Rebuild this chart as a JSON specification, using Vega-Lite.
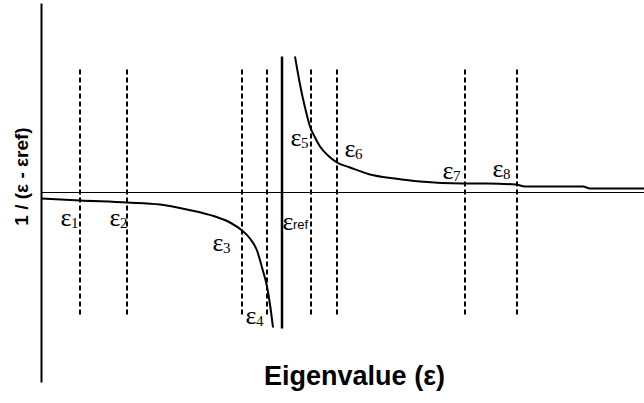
{
  "$schema": "https://vega.github.io/schema/vega-lite/v6.json",
  "autosize": {"type": "none"},
  "width": 603,
  "height": 379,
  "padding": {"left": 41, "top": 3, "right": 0, "bottom": 21},
  "background": "white",
  "config": {"view": {"stroke": null}},
  "datasets": {
    "curve": [
      {"e": 0, "v": -6, "branch": "left"},
      {"e": 39, "v": -8, "branch": "left"},
      {"e": 86, "v": -10, "branch": "left"},
      {"e": 119, "v": -12, "branch": "left"},
      {"e": 146, "v": -17, "branch": "left"},
      {"e": 174, "v": -24, "branch": "left"},
      {"e": 189, "v": -30, "branch": "left"},
      {"e": 201, "v": -38, "branch": "left"},
      {"e": 209, "v": -46, "branch": "left"},
      {"e": 216, "v": -58, "branch": "left"},
      {"e": 221, "v": -75, "branch": "left"},
      {"e": 226, "v": -94, "branch": "left"},
      {"e": 229, "v": -112, "branch": "left"},
      {"e": 232, "v": -135, "branch": "left"},
      {"e": 254, "v": 136, "branch": "right"},
      {"e": 259, "v": 108, "branch": "right"},
      {"e": 264, "v": 85, "branch": "right"},
      {"e": 269, "v": 66, "branch": "right"},
      {"e": 274, "v": 55, "branch": "right"},
      {"e": 279, "v": 46, "branch": "right"},
      {"e": 287, "v": 37, "branch": "right"},
      {"e": 296, "v": 30, "branch": "right"},
      {"e": 309, "v": 25, "branch": "right"},
      {"e": 329, "v": 18, "branch": "right"},
      {"e": 354, "v": 14, "branch": "right"},
      {"e": 379, "v": 11, "branch": "right"},
      {"e": 422, "v": 9, "branch": "right"},
      {"e": 446, "v": 9, "branch": "right"},
      {"e": 475, "v": 8, "branch": "right"},
      {"e": 484, "v": 6, "branch": "right"},
      {"e": 542, "v": 6, "branch": "right"},
      {"e": 549, "v": 4, "branch": "right"},
      {"e": 603, "v": 4, "branch": "right"}
    ],
    "eigen": [
      {"name": "1", "e": 39, "top": 123, "bottom": -125, "lx": 25, "ly": -25},
      {"name": "2", "e": 86, "top": 123, "bottom": -125, "lx": 74, "ly": -25},
      {"name": "3", "e": 201, "top": 123, "bottom": -125, "lx": 177, "ly": -50},
      {"name": "4", "e": 226, "top": 123, "bottom": -125, "lx": 210, "ly": -123},
      {"name": "5", "e": 270, "top": 123, "bottom": -125, "lx": 255, "ly": 55},
      {"name": "6", "e": 296, "top": 123, "bottom": -125, "lx": 309, "ly": 44},
      {"name": "7", "e": 424, "top": 123, "bottom": -125, "lx": 407, "ly": 22},
      {"name": "8", "e": 476, "top": 123, "bottom": -125, "lx": 457, "ly": 24}
    ],
    "ref": [
      {"name": "ref", "e": 241, "top": 136, "bottom": -136, "lx": 247, "ly": -29}
    ],
    "zero": [
      {"start": 0, "end": 603, "v": 0}
    ]
  },
  "encoding": {
    "x": {"type": "quantitative", "scale": {"domain": [0, 603], "nice": false, "zero": false}},
    "y": {"type": "quantitative", "scale": {"domain": [-189.5, 189.5], "nice": false, "zero": false}}
  },
  "layer": [
    {
      "data": {"name": "zero"},
      "mark": {"type": "rule", "color": "black", "strokeWidth": 1},
      "encoding": {
        "x": {"field": "start", "type": "quantitative",
          "axis": {"domain": false, "ticks": false, "labels": false, "grid": false,
            "title": "Eigenvalue (ε)", "titleFont": "Liberation Sans", "titleFontWeight": "bold",
            "titleFontSize": 27, "titleColor": "black", "titleX": 313, "titleY": 2,
            "titleBaseline": "alphabetic", "titleAlign": "center", "titlePadding": 0}},
        "x2": {"field": "end"},
        "y": {"field": "v", "type": "quantitative",
          "axis": {"domain": true, "domainColor": "black", "domainWidth": 2, "ticks": false, "labels": false, "grid": false,
            "title": "1 / (ε - εref)", "titleFont": "Liberation Sans", "titleFontWeight": "bold",
            "titleFontSize": 19, "titleColor": "black", "titleX": -20, "titleY": 173,
            "titleAngle": -90, "titleBaseline": "middle", "titleAlign": "center"}}
      }
    },
    {
      "data": {"name": "eigen"},
      "mark": {"type": "rule", "color": "black", "strokeWidth": 2, "strokeDash": [5, 3]},
      "encoding": {
        "x": {"field": "e", "type": "quantitative"},
        "y": {"field": "top", "type": "quantitative"},
        "y2": {"field": "bottom"}
      }
    },
    {
      "data": {"name": "ref"},
      "mark": {"type": "rule", "color": "black", "strokeWidth": 2.5},
      "encoding": {
        "x": {"field": "e", "type": "quantitative"},
        "y": {"field": "top", "type": "quantitative"},
        "y2": {"field": "bottom"}
      }
    },
    {
      "data": {"name": "curve"},
      "mark": {"type": "line", "color": "black", "strokeWidth": 2, "interpolate": "monotone"},
      "encoding": {
        "x": {"field": "e", "type": "quantitative"},
        "y": {"field": "v", "type": "quantitative"},
        "detail": {"field": "branch"}
      }
    },
    {
      "data": {"name": "eigen"},
      "mark": {"type": "text", "text": "ε", "font": "Liberation Serif", "fontSize": 26, "align": "center", "baseline": "middle", "color": "black"},
      "encoding": {
        "x": {"field": "lx", "type": "quantitative"},
        "y": {"field": "ly", "type": "quantitative"}
      }
    },
    {
      "data": {"name": "eigen"},
      "mark": {"type": "text", "font": "Liberation Serif", "fontSize": 15, "align": "left", "baseline": "middle", "dx": 5, "dy": 5, "color": "black"},
      "encoding": {
        "x": {"field": "lx", "type": "quantitative"},
        "y": {"field": "ly", "type": "quantitative"},
        "text": {"field": "name"}
      }
    },
    {
      "data": {"name": "ref"},
      "mark": {"type": "text", "text": "ε", "font": "Liberation Serif", "fontSize": 26, "align": "center", "baseline": "middle", "color": "black"},
      "encoding": {
        "x": {"field": "lx", "type": "quantitative"},
        "y": {"field": "ly", "type": "quantitative"}
      }
    },
    {
      "data": {"name": "ref"},
      "mark": {"type": "text", "font": "Liberation Sans", "fontSize": 13, "align": "left", "baseline": "middle", "dx": 5, "dy": 3, "color": "black"},
      "encoding": {
        "x": {"field": "lx", "type": "quantitative"},
        "y": {"field": "ly", "type": "quantitative"},
        "text": {"field": "name"}
      }
    }
  ]
}
